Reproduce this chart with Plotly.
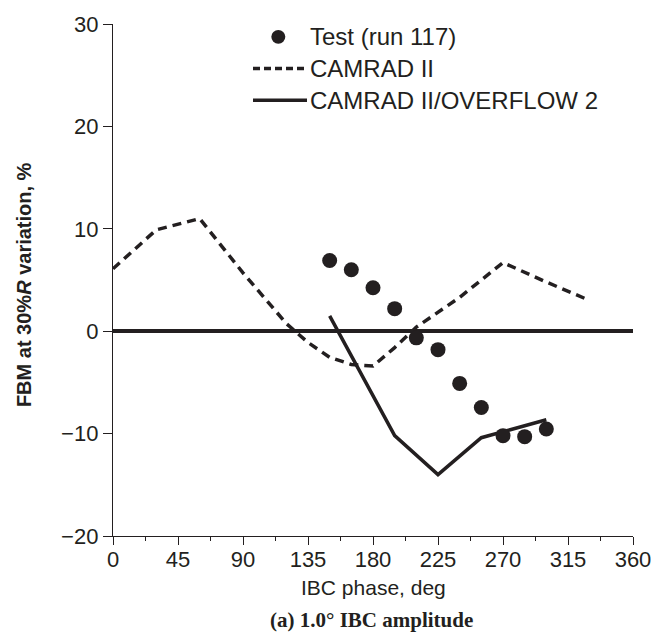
import plotly.graph_objects as go

# IBC phase sweep, flap bending moment (FBM) change at 30% R
test_phase = [150, 165, 180, 195, 210, 225, 240, 255, 270, 285, 300]
test_fbm = [6.9, 6.0, 4.25, 2.2, -0.65, -1.8, -5.1, -7.45, -10.2, -10.3, -9.55]

camrad_phase = [0, 30, 60, 90, 120, 135, 150, 165, 180, 195, 210, 240, 270, 300, 330]
camrad_fbm = [6.1, 9.9, 11.0, 5.7, 0.75, -1.1, -2.55, -3.25, -3.4, -1.6, 0.4, 3.3, 6.7, 4.8, 3.0]

coupled_phase = [150, 195, 225, 255, 300]
coupled_fbm = [1.5, -10.2, -14.0, -10.4, -8.65]

x_ticks = [0, 45, 90, 135, 180, 225, 270, 315, 360]
y_ticks = [-20, -10, 0, 10, 20, 30]

legend_labels = ["Test (run 117)", "CAMRAD II", "CAMRAD II/OVERFLOW 2"]

INK = "#231f20"
SANS = "Liberation Sans, Arial, Helvetica, sans-serif"
SERIF = "Liberation Serif, Times New Roman, serif"

W, H = 668, 634
L, R, T, B = 113, 35, 19, 98
PW, PH = W - L - R, H - T - B


def px(x):
    return (x - L) / PW


def py(y):
    return (H - B - y) / PH


fig = go.Figure()

fig.add_trace(go.Scatter(
    x=camrad_phase, y=camrad_fbm, mode="lines",
    line=dict(color=INK, width=3.5, dash="9px,6px"),
    name=legend_labels[1], showlegend=False,
))
fig.add_trace(go.Scatter(
    x=coupled_phase, y=coupled_fbm, mode="lines",
    line=dict(color=INK, width=3.5),
    name=legend_labels[2], showlegend=False,
))
fig.add_trace(go.Scatter(
    x=test_phase, y=test_fbm, mode="markers",
    marker=dict(color=INK, size=15, line=dict(width=0)),
    name=legend_labels[0], showlegend=False,
))

# key in the upper part of the plot
shapes = [
    dict(type="circle", xref="paper", yref="paper",
         x0=px(278.3 - 7), x1=px(278.3 + 7), y0=py(32 + 7), y1=py(32 - 7),
         fillcolor=INK, line=dict(width=0)),
    dict(type="line", xref="paper", yref="paper",
         x0=px(253), x1=px(307), y0=py(64), y1=py(64),
         line=dict(color=INK, width=3.5, dash="7px,4px")),
    dict(type="line", xref="paper", yref="paper",
         x0=px(253), x1=px(307), y0=py(96), y1=py(96),
         line=dict(color=INK, width=3.5)),
]

annotations = []
for label, yy in zip(legend_labels, [32, 64, 96]):
    annotations.append(dict(
        xref="paper", yref="paper", x=px(308), y=py(yy),
        xanchor="left", yanchor="middle", showarrow=False,
        text=label, font=dict(family=SANS, size=24, color=INK),
    ))

annotations += [
    dict(xref="paper", yref="paper", x=0.5, y=py(588),
         xanchor="center", yanchor="middle", showarrow=False,
         text="IBC phase, deg", font=dict(family=SANS, size=21, color=INK)),
    dict(xref="paper", yref="paper", x=px(24), y=0.49,
         xanchor="center", yanchor="middle", showarrow=False, textangle=-90,
         text="<b>FBM at 30%<i>R</i> variation, %</b>",
         font=dict(family=SANS, size=20, color=INK)),
    dict(xref="paper", yref="paper", x=px(371.5), y=py(621),
         xanchor="center", yanchor="middle", showarrow=False,
         text="<b>(a) 1.0° IBC amplitude</b>",
         font=dict(family=SERIF, size=21, color=INK)),
]

fig.update_layout(
    width=W, height=H,
    margin=dict(l=L, r=R, t=T, b=B, pad=0),
    paper_bgcolor="white", plot_bgcolor="white",
    showlegend=False,
    shapes=shapes,
    annotations=annotations,
    font=dict(family=SANS, color=INK),
)

fig.update_xaxes(
    range=[0, 360], tickvals=x_ticks, ticktext=[str(v) for v in x_ticks],
    showgrid=False, zeroline=False,
    showline=True, linecolor=INK, linewidth=1.3,
    ticks="outside", ticklen=8, tickwidth=1.3, tickcolor=INK,
    ticklabelstandoff=-5,
    tickfont=dict(family=SANS, size=22, color=INK),
    minor=dict(dtick=22.5, tick0=0, ticks="outside", ticklen=4,
               tickwidth=1.3, tickcolor=INK, showgrid=False),
)
fig.update_yaxes(
    range=[-20, 30], tickvals=y_ticks,
    ticktext=[("\u2212" + str(-v)) if v < 0 else str(v) for v in y_ticks],
    showgrid=False,
    zeroline=True, zerolinecolor=INK, zerolinewidth=3.5,
    showline=True, linecolor=INK, linewidth=1.3,
    ticks="outside", ticklen=9, tickwidth=1.3, tickcolor=INK,
    tickfont=dict(family=SANS, size=22, color=INK),
)

fig.write_html("out.html")
